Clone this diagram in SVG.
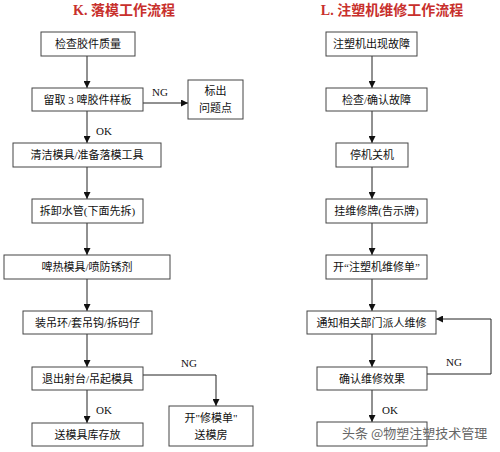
<svg xmlns="http://www.w3.org/2000/svg" width="500" height="452" viewBox="0 0 500 452">
<defs>
<marker id="ah" viewBox="0 0 8 8" refX="8" refY="4" markerWidth="7" markerHeight="7" markerUnits="userSpaceOnUse" orient="auto">
<path d="M0,0 L8,4 L0,8 z" fill="#111"/>
</marker>
<style>
.box{fill:#fff;stroke:#444;stroke-width:1}
.t{font-family:"Liberation Serif","Noto Sans CJK SC",serif;font-size:11px;fill:#111;text-anchor:middle;dominant-baseline:central}
.lbl{font-family:"Liberation Serif","Noto Sans CJK SC",serif;font-size:11px;fill:#111;text-anchor:middle;dominant-baseline:central}
.title{font-family:"Liberation Serif","Noto Sans CJK SC",serif;font-size:14px;font-weight:bold;fill:#c8302c;text-anchor:middle;dominant-baseline:central}
.ln{fill:none;stroke:#222;stroke-width:1}
.wm{font-family:"Noto Sans CJK SC",sans-serif;font-size:13px;fill:#666;text-anchor:start;dominant-baseline:central}
</style>
</defs>
<rect width="500" height="452" fill="#fff"/>
<text class="title" x="124" y="10">K. 落模工作流程</text>
<text class="title" x="392" y="10">L. 注塑机维修工作流程</text>

<g id="connectors">
<line class="ln" x1="87" y1="56" x2="87" y2="88" marker-end="url(#ah)"/>
<line class="ln" x1="143" y1="103" x2="188" y2="103" marker-end="url(#ah)"/>
<line class="ln" x1="87" y1="111" x2="87" y2="143" marker-end="url(#ah)"/>
<line class="ln" x1="87" y1="167" x2="87" y2="199" marker-end="url(#ah)"/>
<line class="ln" x1="87" y1="223" x2="87" y2="255" marker-end="url(#ah)"/>
<line class="ln" x1="87" y1="279" x2="87" y2="311" marker-end="url(#ah)"/>
<line class="ln" x1="87" y1="334" x2="87" y2="367" marker-end="url(#ah)"/>
<polyline class="ln" points="143,375 216,375 216,406" marker-end="url(#ah)"/>
<line class="ln" x1="87" y1="390" x2="87" y2="423" marker-end="url(#ah)"/>
<text class="lbl" x="160" y="92">NG</text>
<text class="lbl" x="104" y="131">OK</text>
<text class="lbl" x="189" y="363">NG</text>
<text class="lbl" x="104" y="410">OK</text>

<line class="ln" x1="372" y1="56" x2="372" y2="88" marker-end="url(#ah)"/>
<line class="ln" x1="372" y1="111" x2="372" y2="143" marker-end="url(#ah)"/>
<line class="ln" x1="372" y1="167" x2="372" y2="199" marker-end="url(#ah)"/>
<line class="ln" x1="372" y1="223" x2="372" y2="255" marker-end="url(#ah)"/>
<line class="ln" x1="372" y1="279" x2="372" y2="311" marker-end="url(#ah)"/>
<line class="ln" x1="372" y1="334" x2="372" y2="367" marker-end="url(#ah)"/>
<polyline class="ln" points="427,374 491,374 491,319 436,319" marker-end="url(#ah)"/>
<line class="ln" x1="372" y1="390" x2="372" y2="422" marker-end="url(#ah)"/>
<text class="lbl" x="454" y="362">NG</text>
<text class="lbl" x="390" y="410">OK</text>
</g>

<g id="k1"><rect class="box" x="41" y="32" width="94" height="24"/><text class="t" x="88" y="44">检查胶件质量</text></g>
<g id="k2"><rect class="box" x="32" y="88" width="111" height="23"/><text class="t" x="87.5" y="99.5">留取 3 啤胶件样板</text></g>
<g id="k2ng"><rect class="box" x="188" y="80" width="55" height="39"/><text class="t" x="215.5" y="91">标出</text><text class="t" x="215.5" y="108">问题点</text></g>
<g id="k3"><rect class="box" x="13" y="143" width="148" height="24"/><text class="t" x="87" y="155">清洁模具/准备落模工具</text></g>
<g id="k4"><rect class="box" x="32" y="199" width="111" height="24"/><text class="t" x="87.5" y="211">拆卸水管(下面先拆)</text></g>
<g id="k5"><rect class="box" x="4" y="255" width="166" height="24"/><text class="t" x="87" y="267">啤热模具/喷防锈剂</text></g>
<g id="k6"><rect class="box" x="23" y="311" width="129" height="23"/><text class="t" x="87.5" y="322.5">装吊环/套吊钩/拆码仔</text></g>
<g id="k7"><rect class="box" x="32" y="367" width="111" height="23"/><text class="t" x="87.5" y="378.5">退出射台/吊起模具</text></g>
<g id="k7ng"><rect class="box" x="169" y="406" width="84" height="40"/><text class="t" x="211" y="418">开"修模单"</text><text class="t" x="211" y="435">送模房</text></g>
<g id="k8"><rect class="box" x="32" y="423" width="111" height="23"/><text class="t" x="87.5" y="434.5">送模具库存放</text></g>

<g id="l1"><rect class="box" x="326" y="32" width="91" height="24"/><text class="t" x="371.5" y="44">注塑机出现故障</text></g>
<g id="l2"><rect class="box" x="326" y="88" width="101" height="23"/><text class="t" x="376.5" y="99.5">检查/确认故障</text></g>
<g id="l3"><rect class="box" x="336" y="143" width="72" height="24"/><text class="t" x="372" y="155">停机关机</text></g>
<g id="l4"><rect class="box" x="326" y="199" width="101" height="24"/><text class="t" x="376.5" y="211">挂维修牌(告示牌)</text></g>
<g id="l5"><rect class="box" x="326" y="255" width="101" height="24"/><text class="t" x="376.5" y="267">开“注塑机维修单”</text></g>
<g id="l6"><rect class="box" x="307" y="311" width="129" height="23"/><text class="t" x="371.5" y="322.5">通知相关部门派人维修</text></g>
<g id="l7"><rect class="box" x="317" y="367" width="110" height="23"/><text class="t" x="372" y="378.5">确认维修效果</text></g>
<g id="l8"><rect class="box" x="317" y="422" width="110" height="24"/></g>
<text class="wm" x="342" y="432">头条 @物塑注塑技术管理</text>
</svg>
